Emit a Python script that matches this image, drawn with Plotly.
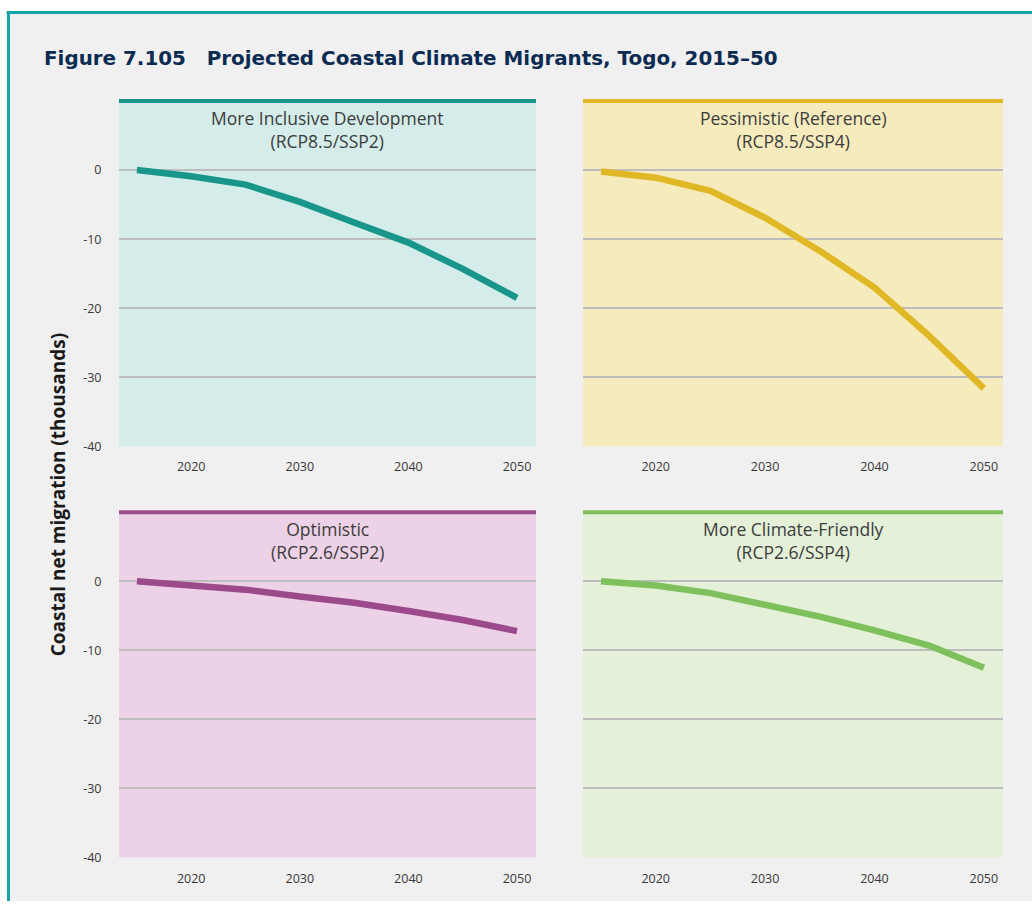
import plotly.graph_objects as go

W, H = 1032, 909
SY = 1.0095  # compensates the slight vertical squeeze of the captured page

years = [2015, 2020, 2025, 2030, 2035, 2040, 2045, 2050]
inclusive = [0, -0.9, -2.1, -4.6, -7.6, -10.5, -14.3, -18.5]
pessimistic = [-0.2, -1.1, -3.0, -6.9, -11.7, -17.0, -24.0, -31.6]
optimistic = [0, -0.5, -1.2, -2.2, -3.1, -4.3, -5.6, -7.2]
climate_friendly = [0, -0.6, -1.7, -3.4, -5.1, -7.1, -9.3, -12.5]

panel_titles = [
    "More Inclusive Development<br>(RCP8.5/SSP2)",
    "Pessimistic (Reference)<br>(RCP8.5/SSP4)",
    "Optimistic<br>(RCP2.6/SSP2)",
    "More Climate-Friendly<br>(RCP2.6/SSP4)",
]
series = [inclusive, pessimistic, optimistic, climate_friendly]
line_colors = ["#18968a", "#e0b724", "#9c4a8c", "#7dc05c"]
bg_colors = ["#d4ecea", "#f6ebbd", "#ecd1e7", "#e4f0d8"]

y_ticks = [-40, -30, -20, -10, 0]
y_ticktext = ["-40", "-30", "-20", "-10", "0"]
x_ticks = [2020, 2030, 2040, 2050]

# pixel boxes in page coords (left, right, top, bottom)
boxes = [
    (119, 536, 101, 446),
    (583, 1003, 101, 446),
    (119, 536, 512, 857),
    (583, 1003, 512, 857),
]

def px(x):
    return x / W

def py(y):
    return max(0.0, 1 - y * SY / H)

fig = go.Figure()
layout = {}
shapes = []
annotations = []

# background frame
shapes.append(dict(type="rect", xref="paper", yref="paper", x0=px(8), x1=1, y0=0, y1=py(12),
                   fillcolor="#f0f0f0", line=dict(width=0), layer="below"))
shapes.append(dict(type="line", xref="paper", yref="paper", x0=px(6.5), x1=1, y0=py(12.5), y1=py(12.5),
                   line=dict(color="#15a3a5", width=3)))
shapes.append(dict(type="line", xref="paper", yref="paper", x0=px(8.5), x1=px(8.5), y0=0, y1=py(11),
                   line=dict(color="#15a3a5", width=3)))

tick_font = dict(family="Open Sans", size=12.5, color="#383838")

for i, (vals, title, lc, bg, box) in enumerate(zip(series, panel_titles, line_colors, bg_colors, boxes)):
    n = "" if i == 0 else str(i + 1)
    xa, ya = "x" + n, "y" + n
    l, r, t, b = box
    fig.add_trace(go.Scatter(x=years, y=vals, mode="lines", xaxis=xa, yaxis=ya,
                             line=dict(color=lc, width=6.5), showlegend=False, hoverinfo="x+y"))
    layout["xaxis" + n] = dict(
        domain=[px(l), px(r)], range=[2013.35, 2051.75], anchor=ya,
        tickvals=x_ticks, ticks="outside", ticklen=9, tickcolor="rgba(0,0,0,0)",
        showgrid=False, zeroline=False, showline=False, tickfont=tick_font,
    )
    layout["yaxis" + n] = dict(
        domain=[py(b), py(t)], range=[-40, 10], anchor=xa,
        tickvals=y_ticks, ticktext=y_ticktext, showticklabels=(i % 2 == 0),
        ticks="outside", ticklen=14, tickcolor="rgba(0,0,0,0)",
        showgrid=True, gridcolor="#bdbdbd", gridwidth=2, zeroline=False, showline=False,
        tickfont=tick_font,
    )
    shapes.append(dict(type="rect", xref="paper", yref="paper", x0=px(l), x1=px(r), y0=py(b), y1=py(t),
                       fillcolor=bg, line=dict(width=0), layer="below"))
    shapes.append(dict(type="line", xref="paper", yref="paper", x0=px(l), x1=px(r), y0=py(t), y1=py(t),
                       line=dict(color=lc, width=4)))
    annotations.append(dict(xref="paper", yref="paper", x=(px(l) + px(r)) / 2, y=py(t + 3),
                            xanchor="center", yanchor="top", text=title, showarrow=False,
                            font=dict(family="Open Sans", size=17.5, color="#3c3c3c")))

annotations.append(dict(xref="paper", yref="paper", x=px(42), y=py(58), xanchor="left", yanchor="middle",
                        text="<b>Figure 7.105\u00a0\u00a0\u00a0Projected Coastal Climate Migrants, Togo, 2015\u201350</b>",
                        showarrow=False, font=dict(family="DejaVu Sans", size=19.9, color="#0b2b52")))
annotations.append(dict(xref="paper", yref="paper", x=px(58), y=py(495), xanchor="center", yanchor="middle",
                        text="<b>Coastal net migration (thousands)</b>", textangle=-90,
                        showarrow=False, font=dict(family="Open Sans", size=19, color="#1a1a1a")))

fig.update_layout(
    width=W, height=H, margin=dict(l=0, r=0, t=0, b=0),
    paper_bgcolor="white", plot_bgcolor="rgba(0,0,0,0)",
    shapes=shapes, annotations=annotations, **layout,
)

fig.write_html("out.html", config={"displayModeBar": False},
               post_script="document.body.style.margin='0';document.body.style.overflow='hidden';")
